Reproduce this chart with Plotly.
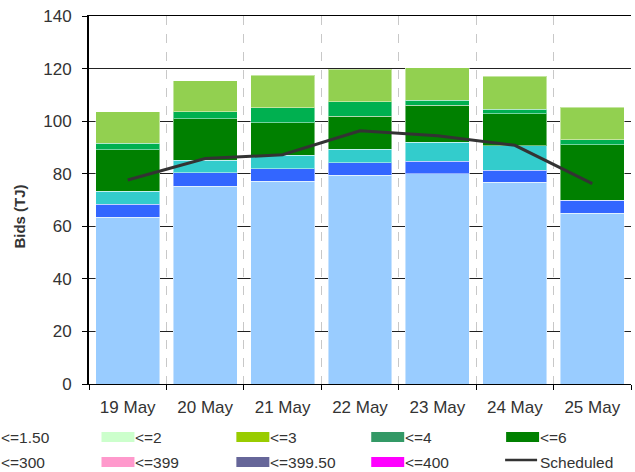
"""Daily bids by price band (stacked) with the scheduled quantity overlaid.

Output: out.html (Plotly, inline plotly.js).
"""

import plotly.graph_objects as go

# ---- data (TJ) ----
dates = ["19 May", "20 May", "21 May", "22 May", "23 May", "24 May", "25 May"]

band_names = ["<=0", "<=0.50", "<=1", "<=6", "<=10", "<=20"]
band_colors = ["#99CCFF", "#3366FF", "#33CCCC", "#008000", "#00B050", "#92D050"]
band_0 = [63.5, 75.3, 77.1, 79.4, 79.9, 76.7, 65.0]
band_1 = [4.9, 5.0, 4.7, 4.7, 4.8, 4.7, 4.9]
band_2 = [5.0, 4.9, 5.3, 5.3, 7.3, 9.2, 0.0]
band_3 = [15.7, 15.7, 12.2, 12.5, 14.0, 12.2, 21.1]
band_4 = [2.4, 2.6, 5.8, 5.4, 2.0, 1.8, 1.9]
band_5 = [12.0, 11.8, 12.3, 12.4, 12.3, 12.4, 12.3]

scheduled = [77.6, 85.8, 87.2, 96.3, 94.4, 90.8, 76.2]

# visible part of the (clipped) legend, row by row
legend_labels = ["<=1.50", "<=2", "<=3", "<=4", "<=6",
                 "<=300", "<=399", "<=399.50", "<=400", "Scheduled"]
legend_colors = [None, "#CCFFCC", "#99CC00", "#339966", "#008000",
                 None, "#FF99CC", "#666699", "#FF00FF", "#333333"]

FONT = "Liberation Sans, Arial, sans-serif"
TEXT = "#333333"
W, H = 635, 472
L, R, T, B = 88.5, 4, 16, 88


def px_x(x):
    # pixel -> paper x
    return (x - L) / (W - L - R)


def px_y(y):
    # pixel -> paper y
    return (H - B - y) / (H - B - T)


def add_legend(fig):
    '''Draw the legend by hand so it can be clipped like the source.'''
    col_w = 135
    for i, (lab, col) in enumerate(zip(legend_labels, legend_colors)):
        row, c = divmod(i, 5)
        x_text = c * col_w
        y_mid = 437 + row * 25
        if col is not None:
            if lab == "Scheduled":
                fig.add_shape(type="line", xref="paper", yref="paper",
                              x0=px_x(x_text - 35), x1=px_x(x_text - 3),
                              y0=px_y(y_mid - 2), y1=px_y(y_mid - 2),
                              line=dict(color=col, width=2.5))
            else:
                fig.add_shape(type="rect", xref="paper", yref="paper",
                              x0=px_x(x_text - 34), x1=px_x(x_text - 1),
                              y0=px_y(y_mid - 5), y1=px_y(y_mid + 5),
                              fillcolor=col, line=dict(width=0))
        fig.add_annotation(text=lab, xref="paper", yref="paper",
                           x=px_x(x_text), y=px_y(y_mid),
                           xanchor="left", yanchor="middle", showarrow=False,
                           xshift=-2, font=dict(family=FONT, size=15.5, color=TEXT))


def main():
    fig = go.Figure()
    bands = [band_0, band_1, band_2, band_3, band_4, band_5]
    for name, color, vals in zip(band_names, band_colors, bands):
        fig.add_trace(go.Bar(
            x=dates, y=vals, name=name, showlegend=False,
            marker=dict(color=color, line=dict(color="rgba(255,255,255,0.45)", width=1)),
        ))
    fig.add_trace(go.Scatter(
        x=dates, y=scheduled, name="Scheduled", mode="lines", showlegend=False,
        line=dict(color="#333333", width=3),
    ))

    fig.update_layout(
        width=W, height=H,
        margin=dict(l=L, r=R, t=T, b=B, autoexpand=False),
        barmode="stack", bargap=0.174,
        plot_bgcolor="white", paper_bgcolor="white",
        font=dict(family=FONT, color=TEXT),
        showlegend=False,
    )
    fig.update_xaxes(
        type="category", tickson="boundaries",
        showgrid=True, gridcolor="#C8C8C8", griddash="dash", gridwidth=1,
        showline=True, linecolor="black", linewidth=1, mirror=True,
        ticks="outside", ticklen=5, tickcolor="black", ticklabelstandoff=8,
        tickfont=dict(family=FONT, size=17, color=TEXT),
    )
    fig.update_yaxes(
        range=[0, 140], dtick=20,
        showgrid=True, gridcolor="#222222", gridwidth=1,
        zeroline=False,
        showline=True, linecolor="black", linewidth=2,
        ticks="outside", ticklen=5, tickcolor="black", ticklabelstandoff=7,
        tickfont=dict(family=FONT, size=17, color=TEXT),
    )
    fig.add_annotation(text="<b>Bids (TJ)</b>", xref="paper", yref="paper",
                       x=px_x(18), y=px_y(217), textangle=-90, showarrow=False,
                       xanchor="center", yanchor="middle",
                       font=dict(family=FONT, size=15, color=TEXT))
    add_legend(fig)

    # page body has a default 8px margin; drop it so the figure sits at 0,0
    fig.write_html("out.html", config={"displayModeBar": False},
                   post_script="document.body.style.margin='0';")


if __name__ == "__main__":
    main()
